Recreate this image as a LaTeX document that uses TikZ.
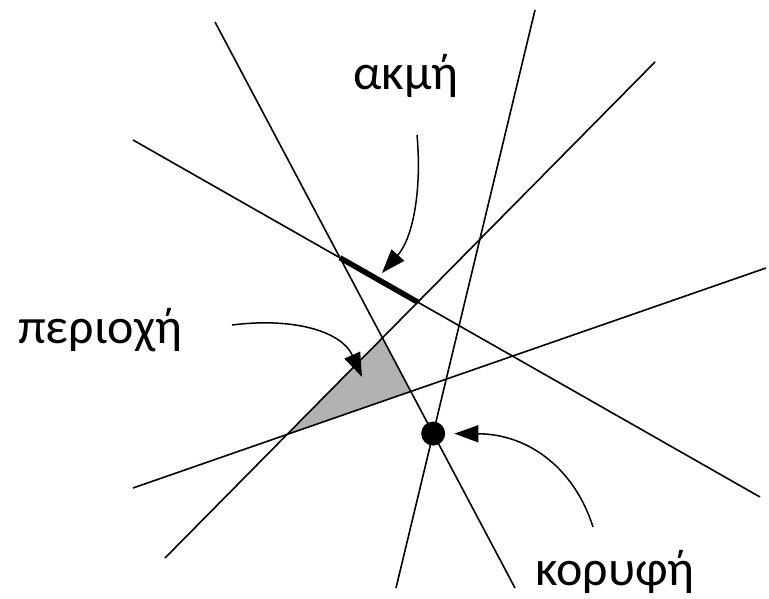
\documentclass[tikz,border=0pt]{standalone}
\usepackage{fontspec}
\setmainfont{Carlito}
\usetikzlibrary{arrows.meta,calc}
\tikzset{
  >={Triangle[length=24pt,width=17pt]},
  ray/.style={draw,line width=1.6pt},
  ptr/.style={->,line width=1.5pt},
  dot/.style={circle,fill=black,minimum size=24pt,inner sep=0pt},
  word/.style={font=\fontsize{50}{60}\selectfont,inner sep=0pt,anchor=base west}
}
\begin{document}
\begin{tikzpicture}[x=1pt,y=-1pt]
\useasboundingbox (0,0) rectangle (769,599);
% end points of the five lines
\coordinate (p1) at (215,22);  \coordinate (q1) at (515,588);
\coordinate (p2) at (535,10);  \coordinate (q2) at (396,588);
\coordinate (p3) at (133,140); \coordinate (q3) at (760,497);
\coordinate (p4) at (655,62);  \coordinate (q4) at (165,558);
\coordinate (p5) at (133,488); \coordinate (q5) at (766,268);
% crossings
\coordinate (e1) at (intersection of p1--q1 and p3--q3);
\coordinate (e2) at (intersection of p3--q3 and p4--q4);
\coordinate (r1) at (intersection of p4--q4 and p5--q5);
\coordinate (r2) at (intersection of p1--q1 and p4--q4);
\coordinate (r3) at (intersection of p1--q1 and p5--q5);
% region
\fill[gray!60] (r1) -- (r2) -- (r3) -- cycle;
\foreach \i in {1,...,5}
  \draw[ray] (p\i) -- (q\i);
% edge
\draw[line width=5.5pt] (e1) -- (e2);
% vertex
\node[dot] (vertex) at (intersection of p1--q1 and p2--q2) {};
% labels
\node[word] (edgelbl) at (353,90) {ακμή};
\node[word] (regionlbl) at (18,343) {περιοχή};
\node[word] (vertexlbl) at (535,585) {κορυφή};
% pointers
\coordinate (edgetail) at (417,135);
\coordinate (edgetip) at (382,273);
\coordinate (regiontail) at (232,325);
\coordinate (regiontip) at (362,377);
\coordinate (vertextail) at (593,527);
\draw[ptr] (edgetail) .. controls (422,190) and (413,238) .. (edgetip);
\draw[ptr] (regiontail) .. controls (295,317) and (342,332) .. (regiontip);
\draw[ptr,shorten >=9pt] (vertextail) .. controls (575,470) and (530,434) .. (vertex);
\end{tikzpicture}
\end{document}
